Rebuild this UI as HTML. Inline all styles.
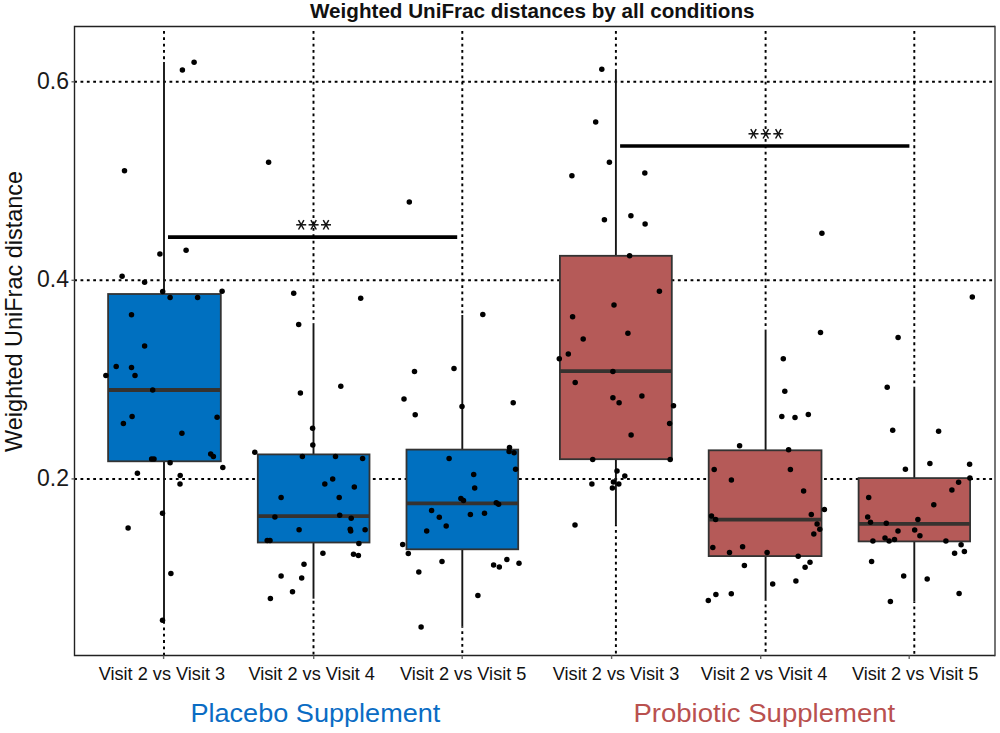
<!DOCTYPE html><html><head><meta charset="utf-8"><style>html,body{margin:0;padding:0;background:#fff;}svg{display:block;}text{font-family:"Liberation Sans",sans-serif;}</style></head><body>
<svg width="1000" height="733" viewBox="0 0 1000 733">
<rect x="0" y="0" width="1000" height="733" fill="#fff"/>
<g stroke="#000" stroke-width="1.95" stroke-dasharray="2.8 3.555" fill="none"><line x1="74.15" y1="81.8" x2="995.0" y2="81.8"/><line x1="74.15" y1="280.3" x2="995.0" y2="280.3"/><line x1="74.15" y1="478.9" x2="995.0" y2="478.9"/><line x1="164.0" y1="30.95" x2="164.0" y2="62.0"/><line x1="164.0" y1="621.5" x2="164.0" y2="655.5" stroke-dashoffset="-590.550"/><line x1="313.5" y1="30.95" x2="313.5" y2="324.0"/><line x1="313.5" y1="598.7" x2="313.5" y2="655.5" stroke-dashoffset="-567.750"/><line x1="462.3" y1="30.95" x2="462.3" y2="315.0"/><line x1="462.3" y1="626.6" x2="462.3" y2="655.5" stroke-dashoffset="-595.650"/><line x1="615.9" y1="30.95" x2="615.9" y2="69.7"/><line x1="615.9" y1="525.1" x2="615.9" y2="655.5" stroke-dashoffset="-494.150"/><line x1="765.6" y1="30.95" x2="765.6" y2="329.6"/><line x1="765.6" y1="600.5" x2="765.6" y2="655.5" stroke-dashoffset="-569.550"/><line x1="914.3" y1="30.95" x2="914.3" y2="387.0"/><line x1="914.3" y1="601.5" x2="914.3" y2="655.5" stroke-dashoffset="-570.550"/></g>
<line x1="164.0" y1="62.0" x2="164.0" y2="294.0" stroke="#161616" stroke-width="1.9"/>
<line x1="164.0" y1="461.3" x2="164.0" y2="621.5" stroke="#161616" stroke-width="1.9"/>
<rect x="108.1" y="294.0" width="112.7" height="167.3" fill="#0070C0" stroke="#333333" stroke-width="1.8"/>
<line x1="108.1" y1="390.0" x2="220.8" y2="390.0" stroke="#36322f" stroke-width="3.8"/>
<line x1="313.5" y1="324.0" x2="313.5" y2="454.4" stroke="#161616" stroke-width="1.9"/>
<line x1="313.5" y1="542.5" x2="313.5" y2="598.7" stroke="#161616" stroke-width="1.9"/>
<rect x="257.8" y="454.4" width="111.7" height="88.1" fill="#0070C0" stroke="#333333" stroke-width="1.8"/>
<line x1="257.8" y1="516.1" x2="369.5" y2="516.1" stroke="#36322f" stroke-width="3.8"/>
<line x1="462.3" y1="315.0" x2="462.3" y2="449.6" stroke="#161616" stroke-width="1.9"/>
<line x1="462.3" y1="549.3" x2="462.3" y2="626.6" stroke="#161616" stroke-width="1.9"/>
<rect x="406.5" y="449.6" width="111.7" height="99.7" fill="#0070C0" stroke="#333333" stroke-width="1.8"/>
<line x1="406.5" y1="503.4" x2="518.2" y2="503.4" stroke="#36322f" stroke-width="3.8"/>
<line x1="615.9" y1="69.7" x2="615.9" y2="255.8" stroke="#161616" stroke-width="1.9"/>
<line x1="615.9" y1="459.2" x2="615.9" y2="525.1" stroke="#161616" stroke-width="1.9"/>
<rect x="559.9" y="255.8" width="111.9" height="203.4" fill="#B55A58" stroke="#333333" stroke-width="1.8"/>
<line x1="559.9" y1="371.2" x2="671.8" y2="371.2" stroke="#36322f" stroke-width="3.8"/>
<line x1="765.6" y1="329.6" x2="765.6" y2="450.3" stroke="#161616" stroke-width="1.9"/>
<line x1="765.6" y1="556.1" x2="765.6" y2="600.5" stroke="#161616" stroke-width="1.9"/>
<rect x="708.7" y="450.3" width="112.8" height="105.8" fill="#B55A58" stroke="#333333" stroke-width="1.8"/>
<line x1="708.7" y1="519.7" x2="821.5" y2="519.7" stroke="#36322f" stroke-width="3.8"/>
<line x1="914.3" y1="387.0" x2="914.3" y2="478.1" stroke="#161616" stroke-width="1.9"/>
<line x1="914.3" y1="541.4" x2="914.3" y2="601.5" stroke="#161616" stroke-width="1.9"/>
<rect x="858.6" y="478.1" width="111.5" height="63.3" fill="#B55A58" stroke="#333333" stroke-width="1.8"/>
<line x1="858.6" y1="523.8" x2="970.1" y2="523.8" stroke="#36322f" stroke-width="3.8"/>
<line x1="168" y1="237.1" x2="457.2" y2="237.1" stroke="#000" stroke-width="3.7"/>
<line x1="620.1" y1="146.1" x2="909.4" y2="146.1" stroke="#000" stroke-width="3.5"/>
<g stroke="#111" stroke-width="1.5" stroke-linecap="butt"><line x1="296.20" y1="224.8" x2="306.20" y2="224.8"/><line x1="298.49" y1="220.10" x2="303.91" y2="229.50"/><line x1="303.91" y1="220.10" x2="298.49" y2="229.50"/><line x1="308.60" y1="224.8" x2="318.60" y2="224.8"/><line x1="310.89" y1="220.10" x2="316.31" y2="229.50"/><line x1="316.31" y1="220.10" x2="310.89" y2="229.50"/><line x1="321.00" y1="224.8" x2="331.00" y2="224.8"/><line x1="323.29" y1="220.10" x2="328.71" y2="229.50"/><line x1="328.71" y1="220.10" x2="323.29" y2="229.50"/><line x1="748.50" y1="133.8" x2="758.50" y2="133.8"/><line x1="750.79" y1="129.10" x2="756.21" y2="138.50"/><line x1="756.21" y1="129.10" x2="750.79" y2="138.50"/><line x1="760.80" y1="133.8" x2="770.80" y2="133.8"/><line x1="763.09" y1="129.10" x2="768.51" y2="138.50"/><line x1="768.51" y1="129.10" x2="763.09" y2="138.50"/><line x1="773.30" y1="133.8" x2="783.30" y2="133.8"/><line x1="775.59" y1="129.10" x2="781.01" y2="138.50"/><line x1="781.01" y1="129.10" x2="775.59" y2="138.50"/></g>
<g fill="#000"><circle cx="182.4" cy="70.1" r="2.75"/><circle cx="194.1" cy="62.2" r="2.75"/><circle cx="124.5" cy="170.8" r="2.75"/><circle cx="159.9" cy="254.1" r="2.75"/><circle cx="186.1" cy="250.2" r="2.75"/><circle cx="122.1" cy="276.2" r="2.75"/><circle cx="144.6" cy="282.3" r="2.75"/><circle cx="162.7" cy="291.5" r="2.75"/><circle cx="222.1" cy="291.2" r="2.75"/><circle cx="170.1" cy="297.4" r="2.75"/><circle cx="197.6" cy="297.4" r="2.75"/><circle cx="131.5" cy="314.8" r="2.75"/><circle cx="144.6" cy="346.1" r="2.75"/><circle cx="116.2" cy="366.6" r="2.75"/><circle cx="131.5" cy="367.5" r="2.75"/><circle cx="105.9" cy="375.4" r="2.75"/><circle cx="135.0" cy="375.4" r="2.75"/><circle cx="152.7" cy="390.0" r="2.75"/><circle cx="132.1" cy="416.4" r="2.75"/><circle cx="123.4" cy="423.4" r="2.75"/><circle cx="217.1" cy="417.3" r="2.75"/><circle cx="181.9" cy="433.2" r="2.75"/><circle cx="210.7" cy="454.0" r="2.75"/><circle cx="213.4" cy="456.4" r="2.75"/><circle cx="151.6" cy="459.0" r="2.75"/><circle cx="154.0" cy="459.0" r="2.75"/><circle cx="170.1" cy="462.7" r="2.75"/><circle cx="222.8" cy="467.5" r="2.75"/><circle cx="137.4" cy="473.2" r="2.75"/><circle cx="180.2" cy="475.4" r="2.75"/><circle cx="180.0" cy="484.1" r="2.75"/><circle cx="162.5" cy="513.3" r="2.75"/><circle cx="128.1" cy="528.1" r="2.75"/><circle cx="170.9" cy="573.4" r="2.75"/><circle cx="162.5" cy="620.3" r="2.75"/><circle cx="268.6" cy="162.2" r="2.75"/><circle cx="293.7" cy="293.2" r="2.75"/><circle cx="360.7" cy="298.2" r="2.75"/><circle cx="298.7" cy="324.4" r="2.75"/><circle cx="300.4" cy="392.9" r="2.75"/><circle cx="340.8" cy="386.2" r="2.75"/><circle cx="312.6" cy="428.2" r="2.75"/><circle cx="312.8" cy="444.9" r="2.75"/><circle cx="254.8" cy="452.3" r="2.75"/><circle cx="302.4" cy="456.4" r="2.75"/><circle cx="335.5" cy="456.4" r="2.75"/><circle cx="362.6" cy="458.5" r="2.75"/><circle cx="332.7" cy="479.0" r="2.75"/><circle cx="324.8" cy="483.9" r="2.75"/><circle cx="354.3" cy="487.0" r="2.75"/><circle cx="281.1" cy="497.6" r="2.75"/><circle cx="339.2" cy="497.6" r="2.75"/><circle cx="274.9" cy="517.0" r="2.75"/><circle cx="339.7" cy="515.3" r="2.75"/><circle cx="351.2" cy="518.3" r="2.75"/><circle cx="299.1" cy="529.7" r="2.75"/><circle cx="350.2" cy="529.2" r="2.75"/><circle cx="350.7" cy="530.9" r="2.75"/><circle cx="365.1" cy="529.7" r="2.75"/><circle cx="267.2" cy="540.4" r="2.75"/><circle cx="270.0" cy="540.4" r="2.75"/><circle cx="358.9" cy="543.5" r="2.75"/><circle cx="322.9" cy="553.3" r="2.75"/><circle cx="353.5" cy="554.3" r="2.75"/><circle cx="358.4" cy="555.4" r="2.75"/><circle cx="304.0" cy="564.3" r="2.75"/><circle cx="281.1" cy="576.0" r="2.75"/><circle cx="301.7" cy="578.1" r="2.75"/><circle cx="292.5" cy="591.8" r="2.75"/><circle cx="270.4" cy="598.6" r="2.75"/><circle cx="409.3" cy="202.0" r="2.75"/><circle cx="482.8" cy="314.5" r="2.75"/><circle cx="414.5" cy="371.4" r="2.75"/><circle cx="454.0" cy="368.6" r="2.75"/><circle cx="404.0" cy="398.9" r="2.75"/><circle cx="462.0" cy="406.6" r="2.75"/><circle cx="513.2" cy="402.7" r="2.75"/><circle cx="415.2" cy="414.7" r="2.75"/><circle cx="509.5" cy="447.6" r="2.75"/><circle cx="509.1" cy="451.4" r="2.75"/><circle cx="514.1" cy="452.7" r="2.75"/><circle cx="515.6" cy="469.3" r="2.75"/><circle cx="449.1" cy="458.5" r="2.75"/><circle cx="473.7" cy="474.4" r="2.75"/><circle cx="474.7" cy="488.0" r="2.75"/><circle cx="460.9" cy="498.6" r="2.75"/><circle cx="463.5" cy="500.6" r="2.75"/><circle cx="496.3" cy="502.7" r="2.75"/><circle cx="498.6" cy="504.3" r="2.75"/><circle cx="431.6" cy="510.4" r="2.75"/><circle cx="439.3" cy="517.3" r="2.75"/><circle cx="470.4" cy="514.5" r="2.75"/><circle cx="484.5" cy="513.3" r="2.75"/><circle cx="446.2" cy="526.0" r="2.75"/><circle cx="426.7" cy="530.9" r="2.75"/><circle cx="402.7" cy="544.5" r="2.75"/><circle cx="408.3" cy="553.5" r="2.75"/><circle cx="442.0" cy="561.4" r="2.75"/><circle cx="418.8" cy="572.0" r="2.75"/><circle cx="493.6" cy="565.1" r="2.75"/><circle cx="499.3" cy="567.1" r="2.75"/><circle cx="506.9" cy="559.4" r="2.75"/><circle cx="519.0" cy="563.2" r="2.75"/><circle cx="477.9" cy="595.6" r="2.75"/><circle cx="421.1" cy="626.9" r="2.75"/><circle cx="601.8" cy="69.2" r="2.75"/><circle cx="595.7" cy="122.1" r="2.75"/><circle cx="609.4" cy="162.2" r="2.75"/><circle cx="571.9" cy="175.8" r="2.75"/><circle cx="644.8" cy="172.9" r="2.75"/><circle cx="604.4" cy="219.8" r="2.75"/><circle cx="630.9" cy="215.7" r="2.75"/><circle cx="645.1" cy="223.9" r="2.75"/><circle cx="629.6" cy="255.8" r="2.75"/><circle cx="659.4" cy="291.3" r="2.75"/><circle cx="614.0" cy="305.1" r="2.75"/><circle cx="572.6" cy="316.7" r="2.75"/><circle cx="627.9" cy="333.2" r="2.75"/><circle cx="583.2" cy="339.1" r="2.75"/><circle cx="568.3" cy="353.9" r="2.75"/><circle cx="559.3" cy="358.8" r="2.75"/><circle cx="612.9" cy="371.4" r="2.75"/><circle cx="575.2" cy="382.4" r="2.75"/><circle cx="612.9" cy="397.7" r="2.75"/><circle cx="619.1" cy="402.8" r="2.75"/><circle cx="641.9" cy="396.1" r="2.75"/><circle cx="673.5" cy="405.8" r="2.75"/><circle cx="669.6" cy="423.4" r="2.75"/><circle cx="631.1" cy="435.0" r="2.75"/><circle cx="592.7" cy="459.6" r="2.75"/><circle cx="670.2" cy="459.6" r="2.75"/><circle cx="617.0" cy="471.1" r="2.75"/><circle cx="624.8" cy="476.0" r="2.75"/><circle cx="591.9" cy="483.9" r="2.75"/><circle cx="613.4" cy="481.9" r="2.75"/><circle cx="618.8" cy="483.9" r="2.75"/><circle cx="612.4" cy="488.1" r="2.75"/><circle cx="575.0" cy="525.1" r="2.75"/><circle cx="821.9" cy="233.2" r="2.75"/><circle cx="820.5" cy="332.4" r="2.75"/><circle cx="783.3" cy="358.7" r="2.75"/><circle cx="784.8" cy="391.2" r="2.75"/><circle cx="781.8" cy="416.5" r="2.75"/><circle cx="795.0" cy="417.4" r="2.75"/><circle cx="808.3" cy="414.6" r="2.75"/><circle cx="739.6" cy="445.8" r="2.75"/><circle cx="788.6" cy="449.7" r="2.75"/><circle cx="714.2" cy="469.5" r="2.75"/><circle cx="790.4" cy="469.5" r="2.75"/><circle cx="731.4" cy="480.1" r="2.75"/><circle cx="803.6" cy="490.9" r="2.75"/><circle cx="824.4" cy="509.6" r="2.75"/><circle cx="811.3" cy="514.5" r="2.75"/><circle cx="711.5" cy="516.1" r="2.75"/><circle cx="715.6" cy="519.4" r="2.75"/><circle cx="817.1" cy="524.0" r="2.75"/><circle cx="819.8" cy="529.2" r="2.75"/><circle cx="813.8" cy="534.0" r="2.75"/><circle cx="712.8" cy="547.6" r="2.75"/><circle cx="742.6" cy="546.7" r="2.75"/><circle cx="729.5" cy="552.5" r="2.75"/><circle cx="767.1" cy="552.5" r="2.75"/><circle cx="798.2" cy="556.2" r="2.75"/><circle cx="744.4" cy="565.4" r="2.75"/><circle cx="810.0" cy="562.3" r="2.75"/><circle cx="805.1" cy="567.3" r="2.75"/><circle cx="772.7" cy="583.9" r="2.75"/><circle cx="795.9" cy="580.9" r="2.75"/><circle cx="715.9" cy="594.5" r="2.75"/><circle cx="731.3" cy="593.7" r="2.75"/><circle cx="708.3" cy="600.6" r="2.75"/><circle cx="972.3" cy="297.0" r="2.75"/><circle cx="898.1" cy="337.4" r="2.75"/><circle cx="887.2" cy="387.2" r="2.75"/><circle cx="892.7" cy="430.2" r="2.75"/><circle cx="938.6" cy="431.2" r="2.75"/><circle cx="905.4" cy="469.3" r="2.75"/><circle cx="929.9" cy="463.4" r="2.75"/><circle cx="969.6" cy="464.3" r="2.75"/><circle cx="969.9" cy="478.1" r="2.75"/><circle cx="958.6" cy="482.2" r="2.75"/><circle cx="951.9" cy="489.9" r="2.75"/><circle cx="868.7" cy="497.4" r="2.75"/><circle cx="933.8" cy="504.7" r="2.75"/><circle cx="867.7" cy="517.0" r="2.75"/><circle cx="870.5" cy="522.2" r="2.75"/><circle cx="886.3" cy="523.2" r="2.75"/><circle cx="917.9" cy="519.4" r="2.75"/><circle cx="898.0" cy="530.9" r="2.75"/><circle cx="914.7" cy="530.0" r="2.75"/><circle cx="919.9" cy="535.8" r="2.75"/><circle cx="872.9" cy="540.9" r="2.75"/><circle cx="885.0" cy="538.0" r="2.75"/><circle cx="889.1" cy="540.9" r="2.75"/><circle cx="894.5" cy="539.6" r="2.75"/><circle cx="945.9" cy="540.9" r="2.75"/><circle cx="961.1" cy="544.7" r="2.75"/><circle cx="954.6" cy="553.3" r="2.75"/><circle cx="964.4" cy="551.5" r="2.75"/><circle cx="871.6" cy="561.4" r="2.75"/><circle cx="903.7" cy="575.9" r="2.75"/><circle cx="927.2" cy="578.9" r="2.75"/><circle cx="959.1" cy="593.6" r="2.75"/><circle cx="890.4" cy="601.5" r="2.75"/></g>
<path d="M995.0,26.5 L74.5,26.5 L74.5,655.5 L995.0,655.5" fill="none" stroke="#222" stroke-width="1.4"/>
<line x1="995.0" y1="25.8" x2="995.0" y2="656.2" stroke="#3a3a3a" stroke-width="1.4"/>
<g stroke="#666" stroke-width="1.4"><line x1="71.5" y1="81.8" x2="74.5" y2="81.8"/><line x1="71.5" y1="280.3" x2="74.5" y2="280.3"/><line x1="71.5" y1="478.9" x2="74.5" y2="478.9"/><line x1="163.6" y1="655.5" x2="163.6" y2="659.0"/><line x1="313.7" y1="655.5" x2="313.7" y2="659.0"/><line x1="462.2" y1="655.5" x2="462.2" y2="659.0"/><line x1="611.6" y1="655.5" x2="611.6" y2="659.0"/><line x1="760.7" y1="655.5" x2="760.7" y2="659.0"/><line x1="909.2" y1="655.5" x2="909.2" y2="659.0"/></g>
<text x="310" y="18.2" font-size="20.8" font-weight="bold" fill="#111" textLength="444.5" lengthAdjust="spacingAndGlyphs">Weighted UniFrac distances by all conditions</text>
<text transform="translate(22,311.5) rotate(-90)" text-anchor="middle" font-size="23.4" fill="#111" textLength="281" lengthAdjust="spacingAndGlyphs">Weighted UniFrac distance</text>
<text x="69.0" y="88.8" text-anchor="end" font-size="23" fill="#1a1a1a">0.6</text>
<text x="69.0" y="287.0" text-anchor="end" font-size="23" fill="#1a1a1a">0.4</text>
<text x="69.0" y="486.0" text-anchor="end" font-size="23" fill="#1a1a1a">0.2</text>
<text x="161.9" y="680.3" text-anchor="middle" font-size="18.9" fill="#111" textLength="126.5" lengthAdjust="spacingAndGlyphs">Visit 2 vs Visit 3</text>
<text x="311.7" y="680.3" text-anchor="middle" font-size="18.9" fill="#111" textLength="126.5" lengthAdjust="spacingAndGlyphs">Visit 2 vs Visit 4</text>
<text x="463.2" y="680.3" text-anchor="middle" font-size="18.9" fill="#111" textLength="126.5" lengthAdjust="spacingAndGlyphs">Visit 2 vs Visit 5</text>
<text x="616.0" y="680.3" text-anchor="middle" font-size="18.9" fill="#111" textLength="126.5" lengthAdjust="spacingAndGlyphs">Visit 2 vs Visit 3</text>
<text x="764.1" y="680.3" text-anchor="middle" font-size="18.9" fill="#111" textLength="126.5" lengthAdjust="spacingAndGlyphs">Visit 2 vs Visit 4</text>
<text x="915.2" y="680.3" text-anchor="middle" font-size="18.9" fill="#111" textLength="126.5" lengthAdjust="spacingAndGlyphs">Visit 2 vs Visit 5</text>
<text x="315.4" y="722.3" text-anchor="middle" font-size="26.6" fill="#0A6CC4" textLength="250" lengthAdjust="spacingAndGlyphs">Placebo Supplement</text>
<text x="764.3" y="722.3" text-anchor="middle" font-size="26.6" fill="#B9514F" textLength="261.8" lengthAdjust="spacingAndGlyphs">Probiotic Supplement</text>
</svg></body></html>
